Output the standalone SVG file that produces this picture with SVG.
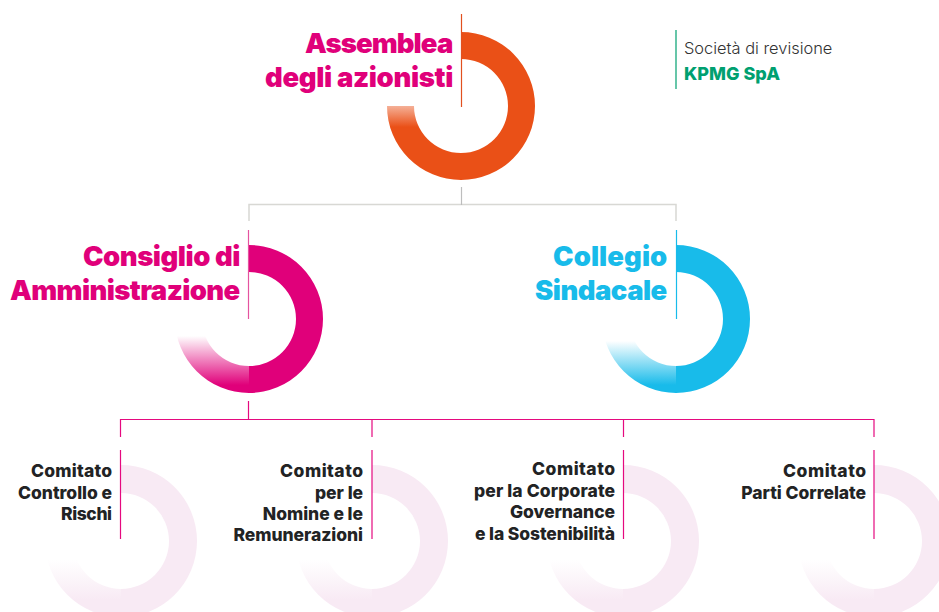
<svg xmlns="http://www.w3.org/2000/svg" width="939" height="612" viewBox="0 0 939 612">
<style>
text{font-family:Inter,"Liberation Sans",sans-serif;text-anchor:end}
.h{font-size:27.5px;font-weight:900;letter-spacing:-.3px}
.c{font-size:17.5px;font-weight:800;fill:#222324;letter-spacing:-.05px}
.m{fill:#e0007a}
.line{fill:none;stroke-width:1.2}
</style>
<defs>
<linearGradient id="gO" gradientUnits="userSpaceOnUse" x1="0" y1="0" x2="0" y2="21"><stop offset="0" stop-color="#f5b097"/><stop offset="1" stop-color="#ea5017"/></linearGradient>
<linearGradient id="gM" gradientUnits="userSpaceOnUse" x1="0" y1="17" x2="0" y2="66"><stop offset="0" stop-color="#e0007a" stop-opacity="0"/><stop offset="1" stop-color="#e0007a"/></linearGradient>
<linearGradient id="gB" gradientUnits="userSpaceOnUse" x1="0" y1="22" x2="0" y2="66"><stop offset="0" stop-color="#18bbea" stop-opacity="0"/><stop offset="1" stop-color="#18bbea"/></linearGradient>
<linearGradient id="gP" gradientUnits="userSpaceOnUse" x1="0" y1="19" x2="0" y2="59"><stop offset="0" stop-color="#f8eaf4" stop-opacity="0"/><stop offset="1" stop-color="#f8eaf4"/></linearGradient>
<path id="big" d="M0-74A74 74 0 0 1 74 0H47A47 47 0 0 0 0-47ZM74 0A74 74 0 0 1 0 74V47A47 47 0 0 0 47 0Z"/>
<path id="bigL" d="M0 74A74 74 0 0 1-74 0H-47A47 47 0 0 0 0 47Z"/>
<path id="sm" d="M0-76A76 76 0 0 1 76 0H48A48 48 0 0 0 0-48ZM76 0A76 76 0 0 1 0 76V48A48 48 0 0 0 48 0Z"/>
<path id="smL" d="M0 76A76 76 0 0 1-76 0H-48A48 48 0 0 0 0 48Z"/>
</defs>
<g id="connectors">
<path class="line" stroke="#d8d8d4" style="stroke-width:1.5" d="M249 221V204.500H676V221"/>
<path class="line" stroke="#bdbdbd" d="M461.500 187V205"/>
<path class="line" stroke="#e5097f" d="M120.500 437V419.500H874V437M248.500 401V419.500M372 419.500V437M623.500 419.500V437"/>
</g>
<g id="assemblea">
<use href="#big" x="461" y="106" fill="#ea5017"/><use href="#bigL" x="461" y="106" fill="url(#gO)"/>
<path class="line" stroke="#e2501f" d="M461.500 14V107"/>
<text class="h m" x="453" y="53" textLength="148">Assemblea</text><text class="h m" x="453" y="87" textLength="188">degli azionisti</text>
</g>
<g id="revisione">
<path class="line" stroke="#00a070" d="M676 30V89"/>
<text x="684" y="54" style="text-anchor:start;font-size:16.400px;font-weight:300;fill:#333">Società di revisione</text>
<text x="684" y="80" style="text-anchor:start;font-size:18px;font-weight:800;fill:#00a070">KPMG SpA</text>
</g>
<g id="consiglio">
<use href="#big" x="249" y="319" fill="#e0007a"/><use href="#bigL" x="249" y="319" fill="url(#gM)"/>
<path class="line" stroke="#e5539f" d="M248.500 230V319"/>
<text class="h m" x="240" y="266" textLength="157">Consiglio di</text><text class="h m" x="240" y="300" textLength="230">Amministrazione</text>
</g>
<g id="collegio">
<use href="#big" x="676" y="319" fill="#18bbea"/><use href="#bigL" x="676" y="319" fill="url(#gB)"/>
<path class="line" stroke="#18bbea" d="M676.500 230V319"/>
<text class="h" fill="#18bbea" x="667" y="266" textLength="114">Collegio</text><text class="h" fill="#18bbea" x="667" y="300" textLength="132">Sindacale</text>
</g>
<g id="comitato-controllo">
<use href="#sm" x="121" y="541" fill="#f8eaf4"/><use href="#smL" x="121" y="541" fill="url(#gP)"/>
<path class="line" stroke="#e5097f" d="M120.500 450V539"/>
<text class="c" x="112" y="477" textLength="81">Comitato</text><text class="c" x="112" y="499">Controllo e</text><text class="c" x="112" y="520" textLength="51">Rischi</text>
</g>
<g id="comitato-nomine">
<use href="#sm" x="372" y="541" fill="#f8eaf4"/><use href="#smL" x="372" y="541" fill="url(#gP)"/>
<path class="line" stroke="#e5097f" d="M372 450V539"/>
<text class="c" x="363" y="477" textLength="83">Comitato</text><text class="c" x="363" y="499">per le</text><text class="c" x="363" y="520">Nomine e le</text><text class="c" x="363" y="541">Remunerazioni</text>
</g>
<g id="comitato-governance">
<use href="#sm" x="623" y="541" fill="#f8eaf4"/><use href="#smL" x="623" y="541" fill="url(#gP)"/>
<path class="line" stroke="#e5097f" d="M623.500 450V539"/>
<text class="c" x="615" y="475" textLength="83">Comitato</text><text class="c" x="615" y="497" textLength="141">per la Corporate</text><text class="c" x="615" y="518">Governance</text><text class="c" x="615" y="540" textLength="140">e la Sostenibilità</text>
</g>
<g id="comitato-parti">
<use href="#sm" x="874" y="541" fill="#f8eaf4"/><use href="#smL" x="874" y="541" fill="url(#gP)"/>
<path class="line" stroke="#e5097f" d="M874 450V539"/>
<text class="c" x="866" y="477" textLength="83">Comitato</text><text class="c" x="866" y="499">Parti Correlate</text>
</g>
</svg>
